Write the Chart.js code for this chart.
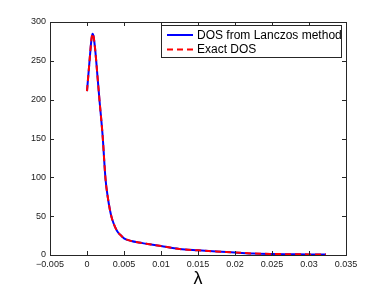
<!DOCTYPE html>
<html>
<head>
<meta charset="utf-8">
<script src="https://cdn.jsdelivr.net/npm/chart.js@4.4.1/dist/chart.umd.min.js"></script>
<style>
  html, body { margin: 0; padding: 0; background: #fff; }
  #wrap { width: 382px; height: 288px; }
</style>
</head>
<body>
<div id="wrap"><canvas id="dosChart" width="382" height="288"></canvas></div>
<script>
// values
const lambdaValues = [0, 0.0003, 0.0005, 0.00063, 0.00075, 0.00088, 0.0011, 0.0014, 0.0017, 0.0021, 0.0025,
    0.0028, 0.0031, 0.0034, 0.0038, 0.0042, 0.0046, 0.005, 0.006, 0.007, 0.008,
    0.01, 0.0125, 0.015, 0.0175, 0.02, 0.0225, 0.025, 0.0275, 0.03, 0.0323];
const lanczosDos = [211, 245, 268, 280, 285, 282, 265, 232, 198, 155, 98,
    75, 58, 46, 36, 29, 25, 21.5, 18, 16, 14.5,
    11.5, 7.8, 6, 4.5, 3.2, 1.8, 1.2, 1.0, 0.8, 0.7];
const exactDos = [211, 245, 268, 280, 285, 282, 265, 232, 198, 155, 98,
    75, 58, 46, 36, 29, 25, 21.5, 18, 16, 14.5,
    11.5, 7.8, 6, 4.6, 3.3, 1.9, 1.3, 1.0, 0.8, 0.7];
const seriesNames = ['DOS from Lanczos method', 'Exact DOS'];
const xTicks = [-0.005, 0, 0.005, 0.01, 0.015, 0.02, 0.025, 0.03, 0.035];
const xTickLabels = ['\u22120.005', '0', '0.005', '0.01', '0.015', '0.02', '0.025', '0.03', '0.035'];
const yTicks = [0, 50, 100, 150, 200, 250, 300];

const axisColor = '#262626';
const fontName = '"Liberation Sans", Arial, Helvetica, sans-serif';

function toPoints(ys) {
    return lambdaValues.map((x, i) => ({ x: x, y: ys[i] }));
}

// box around the axes with inward ticks on all four sides, plus the legend
const matlabBox = {
    id: 'matlabBox',
    afterDraw(chart) {
        const ctx = chart.ctx;
        const area = chart.chartArea;
        const xs = chart.scales.x;
        const ys = chart.scales.y;
        const tick = 4;
        ctx.save();
        ctx.strokeStyle = axisColor;
        ctx.lineWidth = 1;
        ctx.beginPath();
        xTicks.forEach(v => {
            const px = Math.round(xs.getPixelForValue(v)) + 0.5;
            ctx.moveTo(px, area.bottom); ctx.lineTo(px, area.bottom - tick);
            ctx.moveTo(px, area.top); ctx.lineTo(px, area.top + tick);
        });
        yTicks.forEach(v => {
            const py = Math.round(ys.getPixelForValue(v)) + 0.5;
            ctx.moveTo(area.left, py); ctx.lineTo(area.left + tick, py);
            ctx.moveTo(area.right, py); ctx.lineTo(area.right - tick, py);
        });
        ctx.stroke();
        ctx.strokeRect(Math.round(area.left) + 0.5, Math.round(area.top) + 0.5,
            Math.round(area.right - area.left), Math.round(area.bottom - area.top));

        // legend
        const lx = 161.5, ly = 25.5, lw = 180, lh = 32;
        ctx.fillStyle = '#fff';
        ctx.fillRect(lx, ly, lw, lh);
        ctx.strokeRect(lx, ly, lw, lh);
        ctx.font = '12px ' + fontName;
        ctx.textBaseline = 'middle';
        ctx.textAlign = 'left';
        chart.data.datasets.forEach((ds, i) => {
            const rowY = 35 + i * 14.5;
            ctx.beginPath();
            ctx.strokeStyle = ds.borderColor;
            ctx.lineWidth = 2;
            ctx.setLineDash(ds.borderDash || []);
            ctx.moveTo(167, rowY);
            ctx.lineTo(193, rowY);
            ctx.stroke();
            ctx.setLineDash([]);
            ctx.fillStyle = '#000';
            ctx.fillText(ds.label, 197, rowY + 0.5);
        });
        ctx.restore();
    }
};

const ctx = document.getElementById('dosChart').getContext('2d');
new Chart(ctx, {
    type: 'line',
    data: {
        datasets: [
            {
                label: seriesNames[0],
                data: toPoints(lanczosDos),
                borderColor: 'rgb(0, 0, 255)',
                borderWidth: 2,
                pointRadius: 0,
                cubicInterpolationMode: 'monotone',
                order: 1
            },
            {
                label: seriesNames[1],
                data: toPoints(exactDos),
                borderColor: 'rgb(255, 0, 0)',
                borderWidth: 2,
                borderDash: [6, 4],
                pointRadius: 0,
                cubicInterpolationMode: 'monotone',
                order: 0
            }
        ]
    },
    options: {
        responsive: false,
        animation: false,
        layout: { padding: { top: 22, right: 36, left: 0, bottom: 0 } },
        plugins: { legend: { display: false }, tooltip: { enabled: false } },
        scales: {
            x: {
                type: 'linear',
                min: -0.005,
                max: 0.035,
                grid: { display: false, drawTicks: false },
                border: { display: false },
                afterBuildTicks: s => { s.ticks = xTicks.map(v => ({ value: v })); },
                afterFit: s => { s.height = 33; },
                ticks: {
                    autoSkip: false,
                    maxRotation: 0,
                    padding: 4,
                    color: '#1a1a1a',
                    font: { family: fontName, size: 9 },
                    callback: (v, i) => xTickLabels[i]
                },
                title: {
                    display: true,
                    text: '\u03bb',
                    color: '#000',
                    font: { family: fontName, size: 18 },
                    padding: { top: 0, bottom: -2 }
                }
            },
            y: {
                min: 0,
                max: 300,
                grid: { display: false, drawTicks: false },
                border: { display: false },
                afterBuildTicks: s => { s.ticks = yTicks.map(v => ({ value: v })); },
                afterFit: s => { s.width = 50; },
                ticks: {
                    padding: 4,
                    color: '#1a1a1a',
                    font: { family: fontName, size: 9 }
                }
            }
        }
    },
    plugins: [matlabBox]
});
</script>
</body>
</html>
